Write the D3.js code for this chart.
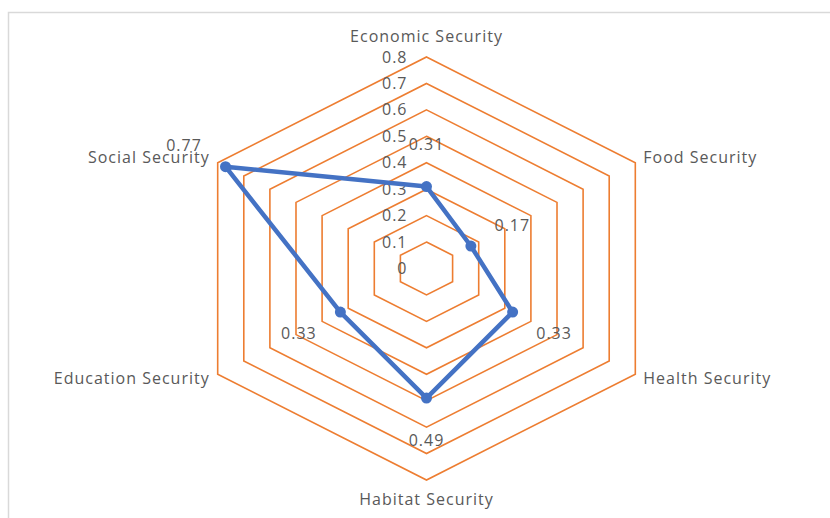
<!DOCTYPE html>
<html>
<head>
<meta charset="utf-8">
<script src="https://cdn.jsdelivr.net/npm/d3@7"></script>
<style>
  body { margin: 0; background: #fff; }
  text { font-family: "Open Sans", Lato, sans-serif; fill: #595959; letter-spacing: 1px; }
</style>
</head>
<body>
<svg id="chart"></svg>
<script>
// data
const categories = ["Economic Security", "Food Security", "Health Security",
                    "Habitat Security", "Education Security", "Social Security"];
const values = [0.31, 0.17, 0.33, 0.49, 0.33, 0.77];
const tickValues = [0, 0.1, 0.2, 0.3, 0.4, 0.5, 0.6, 0.7, 0.8];

const width = 830, height = 518;
const cx = 426.5, cy = 268.5;
const xStretch = 1.14; // the original radar is a bit wider than a regular hexagon

const svg = d3.select('#chart')
  .attr('width', width)
  .attr('height', height);

// chart border
svg.append('rect')
  .attr('x', 8.5)
  .attr('y', 12.5)
  .attr('width', 900)
  .attr('height', 600)
  .attr('fill', 'none')
  .attr('stroke', '#d9d9d9')
  .attr('stroke-width', 1.5);

const r = d3.scaleLinear().domain([0, 0.8]).range([0, 211.5]);
const angle = d3.scaleLinear().domain([0, categories.length]).range([0, 2 * Math.PI]);

function pt(i, v) {
  const a = angle(i);
  return [cx + r(v) * Math.sin(a) * xStretch, cy - r(v) * Math.cos(a)];
}

const g = svg.append('g');

// grid rings
const ring = d3.line().curve(d3.curveLinearClosed);
g.selectAll('.ring')
  .data(tickValues.filter(t => t > 0))
  .enter()
  .append('path')
  .attr('class', 'ring')
  .attr('d', t => ring(categories.map((c, i) => pt(i, t))))
  .attr('fill', 'none')
  .attr('stroke', '#ed7d31')
  .attr('stroke-width', 1.6);

// radial tick labels
g.selectAll('.tick-label')
  .data(tickValues)
  .enter()
  .append('text')
  .attr('class', 'tick-label')
  .attr('x', cx - 19)
  .attr('y', t => cy - r(t))
  .attr('dy', '0.35em')
  .attr('text-anchor', 'end')
  .style('font-size', '16px')
  .text(d3.format('~g'));

// category labels
g.selectAll('.cat-label')
  .data(categories)
  .enter()
  .append('text')
  .attr('class', 'cat-label')
  .each(function(c, i) {
    const [x, y] = pt(i, 0.8);
    const s = Math.sin(angle(i)), co = Math.cos(angle(i));
    const t = d3.select(this);
    if (Math.abs(s) < 0.01) {
      t.attr('x', x).attr('y', co > 0 ? y - 21 : y + 19).attr('text-anchor', 'middle');
    } else {
      t.attr('x', s > 0 ? x + 8 : x - 8)
        .attr('y', co > 0 ? y - 5 : y + 4)
        .attr('text-anchor', s > 0 ? 'start' : 'end');
    }
  })
  .attr('dy', '0.35em')
  .style('font-size', '16px')
  .text(c => c);

// series line
const series = values.map((v, i) => pt(i, v));
g.append('path')
  .attr('d', ring(series))
  .attr('fill', 'none')
  .attr('stroke', '#4472c4')
  .attr('stroke-width', 4.5)
  .attr('stroke-linejoin', 'round');

g.selectAll('.marker')
  .data(series)
  .enter()
  .append('circle')
  .attr('class', 'marker')
  .attr('cx', d => d[0])
  .attr('cy', d => d[1])
  .attr('r', 5.5)
  .attr('fill', '#4472c4');

// data labels, pushed outward along each axis
g.selectAll('.data-label')
  .data(values)
  .enter()
  .append('text')
  .attr('class', 'data-label')
  .attr('x', (v, i) => pt(i, v)[0] + 42 * Math.sin(angle(i)) * xStretch)
  .attr('y', (v, i) => pt(i, v)[1] - 42 * Math.cos(angle(i)))
  .attr('dy', '0.35em')
  .attr('text-anchor', 'middle')
  .style('font-size', '16px')
  .text(v => v);
</script>
</body>
</html>
